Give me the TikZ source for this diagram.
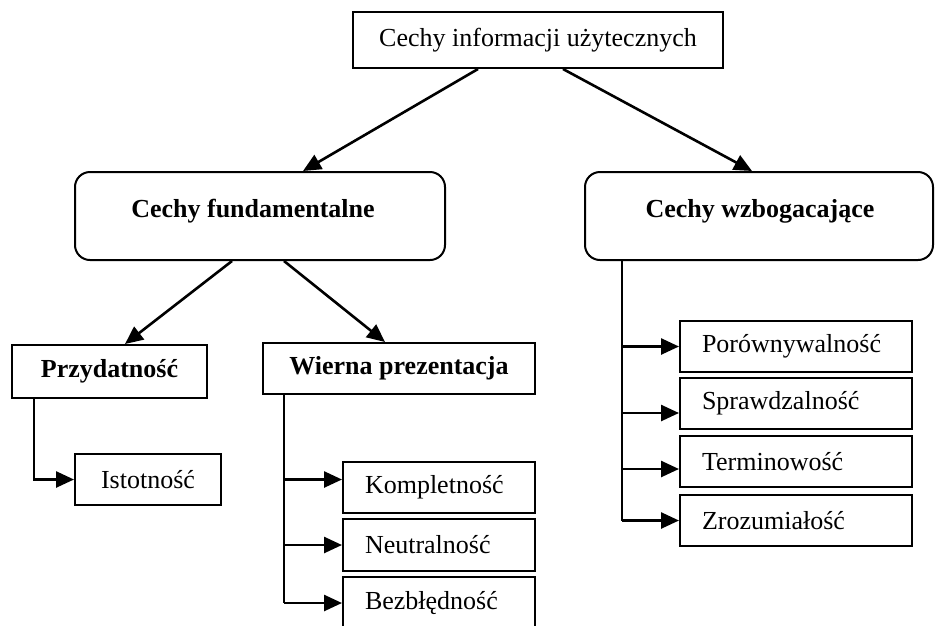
\documentclass[tikz,border=0pt]{standalone}
\usepackage{fontspec}
\setmainfont{Liberation Serif}
\usetikzlibrary{arrows.meta,calc}
\begin{document}
\begin{tikzpicture}[x=1pt,y=-1pt,
  base/.style={draw,line width=2pt,inner sep=0pt,font=\fontsize{26}{30}\selectfont},
  plainbox/.style={base,align=center},
  roundbox/.style={base,rounded corners=15pt,font=\fontsize{26}{30}\selectfont\bfseries},
  boldbox/.style={base,font=\fontsize{26}{30}\selectfont\bfseries},
  leafbox/.style={base,align=left,text width=#1-44pt,inner xsep=22pt},
  conn/.style={line width=2.6pt,-{Triangle[length=18pt,width=16pt]}},
  trunk/.style={line width=2.4pt}]
\clip (0,0) rectangle (935,625);
\fill[white] (0,0) rectangle (935,625);
\node[plainbox,minimum width=370pt,minimum height=56pt] (top) at (538,40) {Cechy informacji użytecznych};
\node[roundbox,minimum width=370pt,minimum height=88pt] (fund) at (260,216) {};
\node[font=\fontsize{26}{30}\selectfont\bfseries] (fundt) at (253,211) {Cechy fundamentalne};
\node[roundbox,minimum width=348pt,minimum height=88pt] (wzb) at (759,216) {};
\node[font=\fontsize{26}{30}\selectfont\bfseries] (wzbt) at (760,211) {Cechy wzbogacające};
\node[boldbox,minimum width=195pt,minimum height=53pt] (przyd) at (109.5,371.5) {Przydatność};
\node[boldbox,minimum width=272pt,minimum height=51pt] (wierna) at (399,368.5) {Wierna prezentacja};
\node[plainbox,minimum width=146pt,minimum height=51pt] (istot) at (148,479.5) {Istotność};
\node[leafbox=192pt,minimum height=51pt] (komp) at (439,487.5) {Kompletność};
\node[leafbox=192pt,minimum height=52pt] (neutr) at (439,545) {Neutralność};
\node[leafbox=192pt,minimum height=52pt] (bez) at (439,603) {Bezbłędność};
\node[leafbox=232pt,minimum height=51pt] (por) at (796,346.5) {Porównywalność};
\node[leafbox=232pt,minimum height=51pt] (spr) at (796,403.5) {Sprawdzalność};
\node[leafbox=232pt,minimum height=51pt] (term) at (796,461.5) {Terminowość};
\node[leafbox=232pt,minimum height=51pt] (zroz) at (796,520.5) {Zrozumiałość};
% diagonal connectors
\draw[conn] ([xshift=-60pt]top.south) -- ([xshift=43pt]fund.north);
\draw[conn] ([xshift=25pt]top.south) -- ([xshift=-7pt]wzb.north);
\draw[conn] ([xshift=-28pt]fund.south) -- ([xshift=15.5pt]przyd.north);
\draw[conn] ([xshift=24pt]fund.south) -- ([xshift=-14pt]wierna.north);
% tree connectors
\coordinate (pl) at ([xshift=23pt]przyd.south west);
\draw[conn] (pl) |- (istot.west);
\coordinate (wl) at ([xshift=22pt]wierna.south west);
\draw[trunk] (wl) -- (wl |- bez.west);
\draw[conn] (wl |- komp.west) ++(0,-8) -- ([yshift=8pt]komp.west);
\draw[conn] (wl |- neutr.west) -- (neutr.west);
\draw[conn] (wl |- bez.west) -- (bez.west);
\coordinate (rl) at ([xshift=38pt]wzb.south west);
\draw[trunk] (rl) -- (rl |- zroz.west);
\draw[conn] (rl |- por.west) -- (por.west);
\draw[conn] (rl |- spr.west) ++(0,9.5) -- ([yshift=-9.5pt]spr.west);
\draw[conn] (rl |- term.west) ++(0,7.5) -- ([yshift=-7.5pt]term.west);
\draw[conn] (rl |- zroz.west) -- (zroz.west);
\end{tikzpicture}
\end{document}
